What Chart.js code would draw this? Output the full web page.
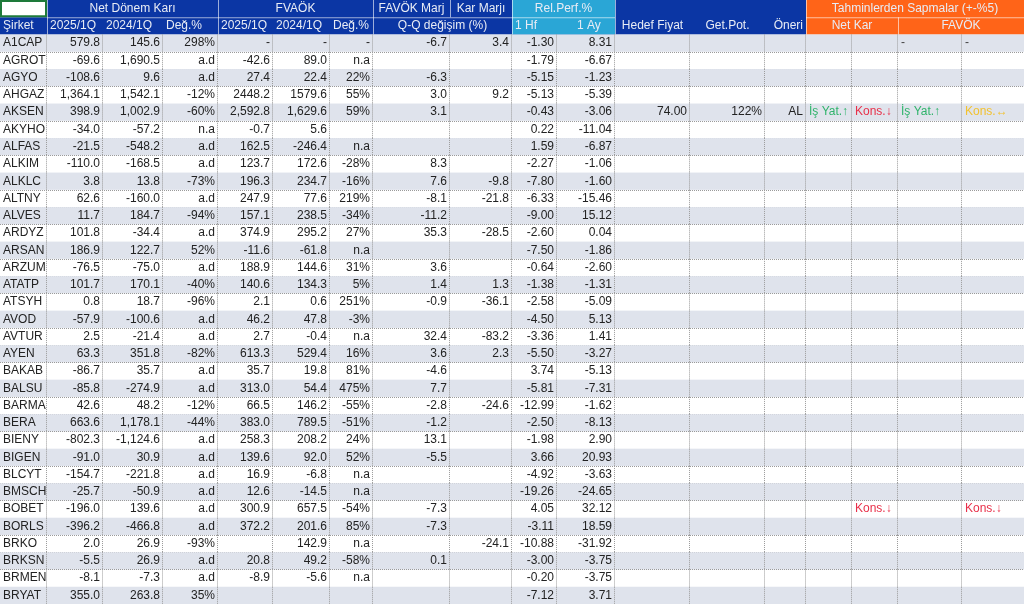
<!DOCTYPE html>
<html><head><meta charset="utf-8">
<script src="https://cdn.jsdelivr.net/npm/chart.js@4.4.1/dist/chart.umd.min.js"></script>
<style>html,body{margin:0;padding:0;background:#fff}#w{width:1024px;height:604px;position:relative}</style>
</head><body><div id="w"><canvas id="c"></canvas></div>
<script>
const companies=["A1CAP","AGROT","AGYO","AHGAZ","AKSEN","AKYHO","ALFAS","ALKIM","ALKLC","ALTNY","ALVES","ARDYZ","ARSAN","ARZUM","ATATP","ATSYH","AVOD","AVTUR","AYEN","BAKAB","BALSU","BARMA","BERA","BIENY","BIGEN","BLCYT","BMSCH","BOBET","BORLS","BRKO","BRKSN","BRMEN","BRYAT"];
const netKar25=["579.8","-69.6","-108.6","1,364.1","398.9","-34.0","-21.5","-110.0","3.8","62.6","11.7","101.8","186.9","-76.5","101.7","0.8","-57.9","2.5","63.3","-86.7","-85.8","42.6","663.6","-802.3","-91.0","-154.7","-25.7","-196.0","-396.2","2.0","-5.5","-8.1","355.0"];
const netKar24=["145.6","1,690.5","9.6","1,542.1","1,002.9","-57.2","-548.2","-168.5","13.8","-160.0","184.7","-34.4","122.7","-75.0","170.1","18.7","-100.6","-21.4","351.8","35.7","-274.9","48.2","1,178.1","-1,124.6","30.9","-221.8","-50.9","139.6","-466.8","26.9","26.9","-7.3","263.8"];
const netKarDeg=["298%","a.d","a.d","-12%","-60%","n.a","a.d","a.d","-73%","a.d","-94%","a.d","52%","a.d","-40%","-96%","a.d","a.d","-82%","a.d","a.d","-12%","-44%","a.d","a.d","a.d","a.d","a.d","a.d","-93%","a.d","a.d","35%"];
const favok25=["-","-42.6","27.4","2448.2","2,592.8","-0.7","162.5","123.7","196.3","247.9","157.1","374.9","-11.6","188.9","140.6","2.1","46.2","2.7","613.3","35.7","313.0","66.5","383.0","258.3","139.6","16.9","12.6","300.9","372.2","","20.8","-8.9",""];
const favok24=["-","89.0","22.4","1579.6","1,629.6","5.6","-246.4","172.6","234.7","77.6","238.5","295.2","-61.8","144.6","134.3","0.6","47.8","-0.4","529.4","19.8","54.4","146.2","789.5","208.2","92.0","-6.8","-14.5","657.5","201.6","142.9","49.2","-5.6",""];
const favokDeg=["-","n.a","22%","55%","59%","","n.a","-28%","-16%","219%","-34%","27%","n.a","31%","5%","251%","-3%","n.a","16%","81%","475%","-55%","-51%","24%","52%","n.a","n.a","-54%","85%","n.a","-58%","n.a",""];
const favokMarj=["-6.7","","-6.3","3.0","3.1","","","8.3","7.6","-8.1","-11.2","35.3","","3.6","1.4","-0.9","","32.4","3.6","-4.6","7.7","-2.8","-1.2","13.1","-5.5","","","-7.3","-7.3","","0.1","",""];
const karMarj=["3.4","","","9.2","","","","","-9.8","-21.8","","-28.5","","","1.3","-36.1","","-83.2","2.3","","","-24.6","","","","","","","","-24.1","","",""];
const perf1Hf=["-1.30","-1.79","-5.15","-5.13","-0.43","0.22","1.59","-2.27","-7.80","-6.33","-9.00","-2.60","-7.50","-0.64","-1.38","-2.58","-4.50","-3.36","-5.50","3.74","-5.81","-12.99","-2.50","-1.98","3.66","-4.92","-19.26","4.05","-3.11","-10.88","-3.00","-0.20","-7.12"];
const perf1Ay=["8.31","-6.67","-1.23","-5.39","-3.06","-11.04","-6.87","-1.06","-1.60","-15.46","15.12","0.04","-1.86","-2.60","-1.31","-5.09","5.13","1.41","-3.27","-5.13","-7.31","-1.62","-8.13","2.90","20.93","-3.63","-24.65","32.12","18.59","-31.92","-3.75","-3.75","3.71"];
const hedefFiyat={AKSEN:"74.00"};
const getPot={AKSEN:"122%"};
const oneri={AKSEN:"AL"};
const sapmaNetKar1={AKSEN:["İş Yat.↑","#2fb36b"]};
const sapmaNetKar2={AKSEN:["Kons.↓","#e8304a"],BOBET:["Kons.↓","#e8304a"]};
const sapmaFavok1={A1CAP:["-","#444"],AKSEN:["İş Yat.↑","#2fb36b"]};
const sapmaFavok2={A1CAP:["-","#444"],AKSEN:["Kons.↔","#f2c230"],BOBET:["Kons.↓","#e8304a"]};

const colX=[0,47,103,163,218,273,330,373,450,512,557,615,690,765,806,852,898,962,1024];
const DB="#0b36a4",CY="#2aa6d6",OR="#ff6418";
const yLabels=["h1","h2"].concat(companies);

const tablePlugin={id:'tbl',afterDraw(ch){
  const c=ch.ctx,ys=ch.scales.y,xs=ch.scales.x;
  const X=i=>xs.getPixelForValue(colX[i]);
  const half=(ys.getPixelForValue(1)-ys.getPixelForValue(0))/2;
  const top=r=>ys.getPixelForValue(r)-half, bot=r=>ys.getPixelForValue(r)+half;
  c.save();
  c.font='12px "Liberation Sans", Arial, sans-serif';
  c.textBaseline='middle';
  // headers
  const fill=(x0,x1,r0,r1,col)=>{c.fillStyle=col;c.fillRect(X(x0),top(r0),X(x1)-X(x0),bot(r1)-top(r0));};
  fill(0,11,0,1,DB);fill(9,11,0,1,CY);fill(11,14,0,1,DB);fill(14,18,0,1,OR);
  fill(0,1,0,0,"#fff");
  c.strokeStyle="#1e7a3a";c.lineWidth=2;c.strokeRect(X(0)+1,top(0)+1,X(1)-X(0)-2,bot(0)-top(0)-2);
  c.strokeStyle="rgba(255,255,255,0.6)";c.lineWidth=1;
  [[1,0,1],[4,0,1],[7,0,1],[8,0,0],[9,0,1],[11,0,1],[14,0,1],[16,1,1]].forEach(([i,a,b])=>{c.beginPath();c.moveTo(X(i)+.5,top(a));c.lineTo(X(i)+.5,bot(b));c.stroke();});
  [[1,11],[14,18]].forEach(([a,b])=>{c.beginPath();c.moveTo(X(a),bot(0)+.5);c.lineTo(X(b),bot(0)+.5);c.stroke();});
  const tc="#e8ecf5";
  const txt=(s,x,y,al,col)=>{c.fillStyle=col;c.textAlign=al;c.fillText(s,x,y);};
  const yc=r=>ys.getPixelForValue(r);
  txt("Net Dönem Karı",(X(1)+X(4))/2,yc(0),'center',tc);
  txt("FVAÖK",(X(4)+X(7))/2,yc(0),'center',tc);
  txt("FAVÖK Marj",(X(7)+X(8))/2,yc(0),'center',tc);
  txt("Kar Marjı",(X(8)+X(9))/2,yc(0),'center',tc);
  txt("Rel.Perf.%",(X(9)+X(11))/2,yc(0),'center',tc);
  txt("Tahminlerden Sapmalar (+-%5)",(X(14)+X(18))/2,yc(0),'center',tc);
  txt("Şirket",3,yc(1),'left',tc);
  ["2025/1Q","2024/1Q","Değ.%","2025/1Q","2024/1Q","Değ.%"].forEach((s,k)=>txt(s,X(k+1)+3,yc(1),'left',tc));
  txt("Q-Q değişim (%)",(X(7)+X(9))/2,yc(1),'center',tc);
  txt("1 Hf",X(9)+3,yc(1),'left',tc);txt("1 Ay",X(10)+20,yc(1),'left',tc);
  txt("Hedef Fiyat",(X(11)+X(12))/2,yc(1),'center',tc);
  txt("Get.Pot.",(X(12)+X(13))/2,yc(1),'center',tc);
  txt("Öneri",X(14)-3,yc(1),'right',tc);
  txt("Net Kar",(X(14)+X(16))/2,yc(1),'center',tc);
  txt("FAVÖK",(X(16)+X(18))/2,yc(1),'center',tc);
  // body
  const cols=[netKar25,netKar24,netKarDeg,favok25,favok24,favokDeg,favokMarj,karMarj,perf1Hf,perf1Ay];
  companies.forEach((co,k)=>{
    const r=k+2;
    if(k%2===0){c.fillStyle="#dfe3ec";c.fillRect(0,top(r),X(18),bot(r)-top(r));}
    const y=yc(r);
    txt(co,3,y,'left',"#222");
    cols.forEach((a,j)=>{ if(a[k]) txt(a[k],X(j+2)-3,y,'right',"#222");});
    if(hedefFiyat[co])txt(hedefFiyat[co],X(12)-3,y,'right',"#222");
    if(getPot[co])txt(getPot[co],X(13)-3,y,'right',"#222");
    if(oneri[co])txt(oneri[co],X(14)-3,y,'right',"#222");
    [[sapmaNetKar1,14],[sapmaNetKar2,15],[sapmaFavok1,16],[sapmaFavok2,17]].forEach(([m,i])=>{if(m[co])txt(m[co][0],X(i)+3,y,'left',m[co][1]);});
    // dotted grid
    c.strokeStyle="#9a9a9a";c.setLineDash([1,1]);c.lineWidth=1;
    c.beginPath();c.moveTo(0,Math.round(bot(r))+.5);c.lineTo(X(18),Math.round(bot(r))+.5);c.stroke();
    for(let i=1;i<18;i++){c.beginPath();c.moveTo(Math.round(X(i))-.5,top(r));c.lineTo(Math.round(X(i))-.5,bot(r));c.stroke();}
    c.setLineDash([]);
  });
  c.restore();
}};
new Chart(document.getElementById('c'),{
  type:'bar',
  data:{labels:yLabels,datasets:[{data:yLabels.map(()=>null),backgroundColor:'rgba(0,0,0,0)'}]},
  options:{indexAxis:'y',responsive:true,maintainAspectRatio:false,animation:false,
    layout:{padding:0},
    plugins:{legend:{display:false},tooltip:{enabled:false}},
    scales:{x:{type:'linear',min:0,max:1024,display:false},y:{type:'category',offset:true,display:false,grid:{display:false}}}},
  plugins:[tablePlugin]
});
</script></body></html>
